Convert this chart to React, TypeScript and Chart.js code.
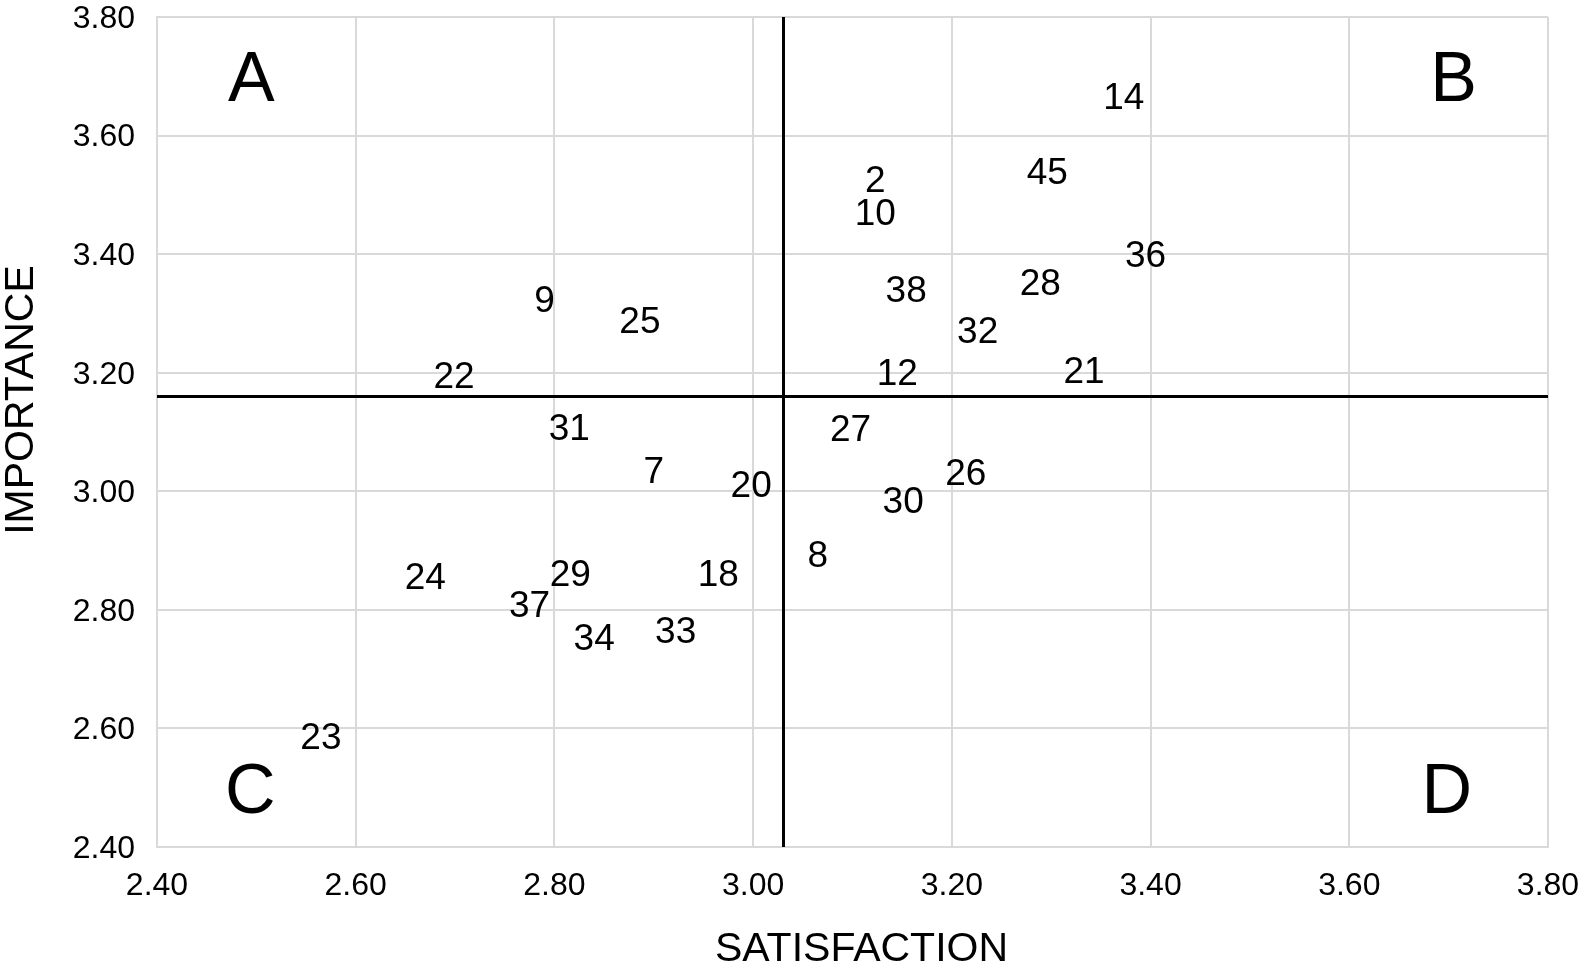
import React, { useEffect, useRef } from "react";
import { Chart, registerables } from "chart.js";

Chart.register(...registerables);

// ---- Data ----
const pointLabels = ["14", "2", "10", "45", "36", "38", "28", "32", "12", "21", "9", "25", "22", "31", "7", "20", "24", "29", "37", "18", "34", "33", "27", "26", "30", "8", "23"];
const satisfaction = [3.373, 3.123, 3.123, 3.296, 3.395, 3.154, 3.289, 3.226, 3.145, 3.333, 2.790, 2.886, 2.699, 2.815, 2.900, 2.998, 2.670, 2.816, 2.775, 2.965, 2.840, 2.922, 3.098, 3.214, 3.151, 3.065, 2.565];
const importance = [3.668, 3.528, 3.471, 3.540, 3.401, 3.341, 3.353, 3.272, 3.202, 3.205, 3.324, 3.290, 3.197, 3.109, 3.036, 3.013, 2.857, 2.862, 2.810, 2.862, 2.754, 2.766, 3.107, 3.033, 2.986, 2.895, 2.588];

const quadrantLabels = ["A", "B", "C", "D"];
const quadrantX = [2.495, 3.705, 2.494, 3.698];
const quadrantY = [3.70, 3.70, 2.50, 2.50];

const dividerX = 3.03;
const dividerY = 3.16;

const axisMin = 2.4;
const axisMax = 3.8;
const axisStep = 0.2;

const xTitle = "SATISFACTION";
const yTitle = "IMPORTANCE";

const FONT = "'Liberation Sans', Arial, Helvetica, sans-serif";
const CAP = 0.358; // half cap-height ratio, to centre glyphs on the point

const labelPlugin = {
  id: "quadLabels",
  beforeDatasetsDraw(chart: any) {
    const { ctx, chartArea, scales } = chart;
    const x = scales.x;
    const y = scales.y;
    ctx.save();
    ctx.strokeStyle = "#000000";
    ctx.lineWidth = 3;
    const px = Math.round(x.getPixelForValue(dividerX)) + 0.5;
    const py = Math.round(y.getPixelForValue(dividerY)) + 0.5;
    ctx.beginPath();
    ctx.moveTo(px, chartArea.top);
    ctx.lineTo(px, chartArea.bottom);
    ctx.moveTo(chartArea.left, py);
    ctx.lineTo(chartArea.right, py);
    ctx.stroke();
    ctx.restore();
  },
  afterDatasetsDraw(chart: any) {
    const { ctx, chartArea, scales } = chart;
    const x = scales.x;
    const y = scales.y;
    ctx.save();
    ctx.fillStyle = "#000000";
    ctx.textAlign = "center";
    ctx.textBaseline = "alphabetic";
    const ls = 37;
    ctx.font = `${ls}px ${FONT}`;
    chart.data.datasets[0].data.forEach((d: any, i: number) => {
      ctx.fillText(pointLabels[i], x.getPixelForValue(d.x), y.getPixelForValue(d.y) + ls * CAP);
    });
    const qs = 70;
    ctx.font = `${qs}px ${FONT}`;
    chart.data.datasets[1].data.forEach((d: any, i: number) => {
      ctx.fillText(quadrantLabels[i], x.getPixelForValue(d.x), y.getPixelForValue(d.y) + qs * CAP);
    });
    // axis titles
    const ts = 41;
    ctx.font = `${ts}px ${FONT}`;
    ctx.textBaseline = "middle";
    ctx.fillText(xTitle, (chartArea.left + chartArea.right) / 2 + 9, chart.height - 21);
    ctx.save();
    ctx.translate(22, (chartArea.top + chartArea.bottom) / 2 - 32);
    ctx.rotate(-Math.PI / 2);
    ctx.fillText(yTitle, 0, 0);
    ctx.restore();
    ctx.restore();
  },
};

export default function App() {
  const canvasRef = useRef<HTMLCanvasElement | null>(null);

  useEffect(() => {
    if (!canvasRef.current) return;
    const chart = new Chart(canvasRef.current, {
      type: "scatter",
      data: {
        datasets: [
          {
            data: satisfaction.map((v, i) => ({ x: v, y: importance[i] })),
            pointRadius: 0,
            pointHoverRadius: 0,
          },
          {
            data: quadrantX.map((v, i) => ({ x: v, y: quadrantY[i] })),
            pointRadius: 0,
            pointHoverRadius: 0,
          },
        ],
      },
      options: {
        animation: false,
        responsive: true,
        maintainAspectRatio: false,
        layout: { padding: { left: 0, top: 17, right: 36, bottom: 0 } },
        plugins: {
          legend: { display: false },
          tooltip: { enabled: false },
        },
        scales: {
          x: {
            type: "linear",
            min: axisMin,
            max: axisMax,
            afterFit(scale: any) {
              scale.height = 124;
              scale.paddingLeft = 0;
              scale.paddingRight = 0;
            },
            ticks: {
              stepSize: axisStep,
              color: "#000000",
              padding: 20,
              font: { family: FONT, size: 32 },
              callback: (v: any) => Number(v).toFixed(2),
            },
            grid: { color: "#d9d9d9", lineWidth: 2, drawTicks: false },
            border: { color: "#d9d9d9", width: 2 },
          },
          y: {
            type: "linear",
            min: axisMin,
            max: axisMax,
            afterFit(scale: any) {
              scale.width = 157;
              scale.paddingTop = 0;
              scale.paddingBottom = 0;
            },
            ticks: {
              stepSize: axisStep,
              color: "#000000",
              padding: 22,
              labelOffset: 2,
              font: { family: FONT, size: 32 },
              callback: (v: any) => Number(v).toFixed(2),
            },
            grid: { color: "#d9d9d9", lineWidth: 2, drawTicks: false },
            border: { color: "#d9d9d9", width: 2 },
          },
        },
      },
      plugins: [labelPlugin],
    });
    return () => chart.destroy();
  }, []);

  return (
    <div style={{ position: "absolute", left: 0, top: 0, width: 1584, height: 971, background: "#ffffff" }}>
      <canvas ref={canvasRef} />
    </div>
  );
}
